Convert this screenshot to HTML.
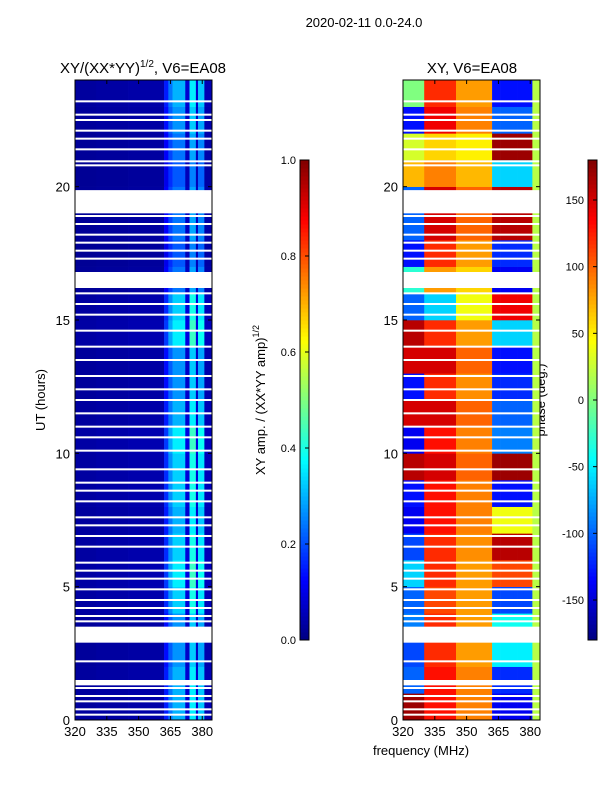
<!DOCTYPE html>
<html><head><meta charset="utf-8"><style>
body{margin:0;background:#fff;}
svg text{font-family:"Liberation Sans",sans-serif;fill:#000;}
</style></head><body>
<svg id="fig" width="600" height="800" xmlns="http://www.w3.org/2000/svg">
<rect width="600" height="800" fill="#fff"/>
<text x="364" y="27" font-size="13" text-anchor="middle">2020-02-11 0.0-24.0</text>
<text x="143" y="73" font-size="15" text-anchor="middle">XY/(XX*YY)<tspan font-size="10" dy="-6">1/2</tspan><tspan dy="6">, V6=EA08</tspan></text>
<text x="472" y="73" font-size="15" text-anchor="middle">XY, V6=EA08</text>
<text transform="translate(45,400) rotate(-90)" font-size="13" text-anchor="middle">UT (hours)</text>
<text transform="translate(265,400) rotate(-90)" font-size="13" text-anchor="middle">XY amp. / (XX*YY amp)<tspan font-size="9" dy="-6">1/2</tspan></text>
<text transform="translate(545,400) rotate(-90)" font-size="13" text-anchor="middle">phase (deg.)</text>
<text x="421" y="755" font-size="13" text-anchor="middle">frequency (MHz)</text>
<g id="left"></g><g id="right"></g><g id="cb"></g>
</svg>
<script>
const hours=[0,1,2,3,4,5,6,7,8,9,10,11,12,13,14,15,16,17,18,19,20,21,22,23];
const freqEdges=[320,330,345,362,364,366,372,374,377,378,381,384.6];
const ampCols=[0.03,0.035,0.04,0.15,0.24,0.3,0.08,0.36,0.08,0.32,0.05];
const ampRow=[1.0,1.0,0.9,0.9,1.1,1.2,1.1,1.0,1.1,1.1,1.2,1.0,0.9,0.9,1.2,1.1,0.8,0.7,0.8,0.8,0.7,0.8,0.9,1.0];
const phaseLow=[170,-100,-110,-90,-100,-60,-110,-140,-130,160,-140,150,-130,150,160,-100,-30,-130,-100,-100,70,30,-130,0];
const phaseMid=[130,130,120,120,110,120,120,130,130,150,130,150,120,150,120,-60,80,120,150,150,90,60,140,120];
const phaseMid2=[90,90,80,80,80,80,85,90,90,100,90,100,85,100,80,40,60,80,100,100,70,50,90,80];
const phaseHigh=[-140,-120,-50,-40,-110,110,160,40,-130,170,-90,-100,-120,-130,-60,140,-140,-120,160,160,-60,170,-100,-130];
const phaseEdge=20;
const gaps=[[19.0,19.87],[2.9,3.5],[1.3,1.5],[16.2,16.8]];
const thinGaps=[23.2,22.7,22.5,22.1,21.8,21.4,20.95,20.8,18.9,18.6,18.2,17.9,17.6,17.3,16.0,15.6,15.2,14.6,14.0,13.5,12.9,12.4,12.0,11.5,11.0,10.6,10.1,9.4,8.9,8.6,8.2,7.6,7.3,6.9,6.5,5.9,5.6,5.3,4.9,4.5,4.2,3.9,3.7,2.2,1.2,0.9,0.7,0.4,0.2];
const yTicks=[0,5,10,15,20];
const xTicks=[320,335,350,365,380];
const ampTicks=[0.0,0.2,0.4,0.6,0.8,1.0];
const phaseTicks=[-150,-100,-50,0,50,100,150];

const NS="http://www.w3.org/2000/svg";
const PT=80,PB=720,FMIN=320,FMAX=384.6,PW=137;
function yS(h){return PB-(h/24)*(PB-PT);}
function jet(v){v=Math.max(0,Math.min(1,v));const c=x=>Math.round(255*Math.max(0,Math.min(1,1.5-Math.abs(x))));return `rgb(${c(4*v-3)},${c(4*v-2)},${c(4*v-1)})`;}
function mk(tag,attrs,parent){const e=document.createElementNS(NS,tag);for(const k in attrs)e.setAttribute(k,attrs[k]);parent.appendChild(e);return e;}
function panel(gid,x0,valFn,name){
  const g=document.getElementById(gid);
  const xS=f=>x0+(f-FMIN)/(FMAX-FMIN)*PW;
  hours.forEach((h,i)=>{
    for(let c=0;c<freqEdges.length-1;c++){
      const r=mk('rect',{x:xS(freqEdges[c]),y:yS(h+1),width:xS(freqEdges[c+1])-xS(freqEdges[c])+0.3,height:yS(h)-yS(h+1)+0.3,fill:jet(valFn(i,c))},g);
      
      
    }
  });
  gaps.forEach(gp=>{const r=mk('rect',{x:x0,y:yS(gp[1]),width:PW,height:yS(gp[0])-yS(gp[1]),fill:'#fff'},g);
    
    });
  thinGaps.forEach(t=>{const r=mk('rect',{x:x0,y:yS(t)-1,width:PW,height:2,fill:'#fff'},g);
    
    });
  const f=mk('rect',{x:x0,y:PT,width:PW,height:PB-PT,fill:'none',stroke:'#000','stroke-width':1},g);
  
  
  yTicks.forEach(t=>{mk('line',{x1:x0,x2:x0+4,y1:yS(t),y2:yS(t),stroke:'#000'},g);mk('line',{x1:x0+PW,x2:x0+PW-4,y1:yS(t),y2:yS(t),stroke:'#000'},g);
    const tx=mk('text',{x:x0-5,y:yS(t)+5,'font-size':13,'text-anchor':'end'},g);tx.textContent=t;
    
    });
  xTicks.forEach(t=>{mk('line',{x1:xS(t),x2:xS(t),y1:PB,y2:PB-4,stroke:'#000'},g);mk('line',{x1:xS(t),x2:xS(t),y1:PT,y2:PT+4,stroke:'#000'},g);
    const tx=mk('text',{x:xS(t),y:PB+16,'font-size':13,'text-anchor':'middle'},g);tx.textContent=t;
    
    });
}
panel('left',75,(i,c)=>ampCols[c]*ampRow[i],'amp');
function ph(i,c){const f=freqEdges[c];let p;if(f<330)p=phaseLow[i];else if(f<345)p=phaseMid[i];else if(f<362)p=phaseMid2[i];else if(f<381)p=phaseHigh[i];else p=phaseEdge;return (p+180)/360;}
panel('right',403,ph,'phase');
function cbar(x,min,max,ticks,name){
  const g=document.getElementById('cb');
  const N=120,top=160,bot=640;
  for(let k=0;k<N;k++){const r=mk('rect',{x:x,y:bot-(k+1)*(bot-top)/N,width:9,height:(bot-top)/N+0.5,fill:jet((k+0.5)/N)},g);
    
    }
  const f=mk('rect',{x:x,y:top,width:9,height:bot-top,fill:'none',stroke:'#000'},g);
  
  
  ticks.forEach(t=>{const y=bot-(t-min)/(max-min)*(bot-top);mk('line',{x1:x+5,x2:x+9,y1:y,y2:y,stroke:'#000'},g);
    const tx=mk('text',{x:x-4,y:y+4,'font-size':11,'text-anchor':'end'},g);tx.textContent=(name==='amp-colorbar'?t.toFixed(1):t);
    
    });
}
cbar(300,0,1,ampTicks,'amp-colorbar');
cbar(588,-180,180,phaseTicks,'phase-colorbar');
</script>
</body></html>
